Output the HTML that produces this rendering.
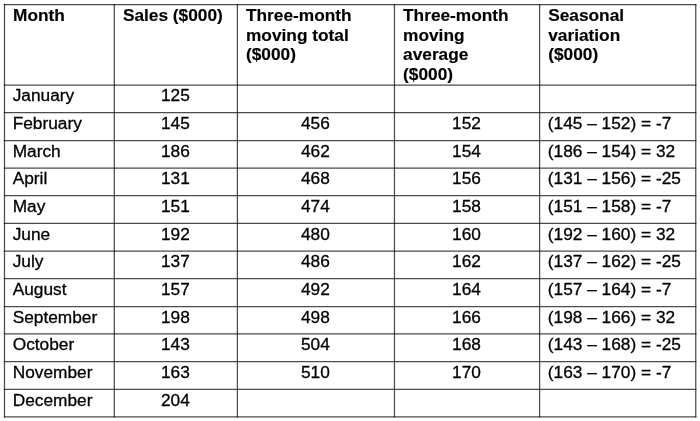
<!DOCTYPE html><html><head><meta charset="utf-8"><style>
html,body{margin:0;padding:0;background:#fff;width:700px;height:421px;overflow:hidden;}
body{position:relative;font-family:"Liberation Sans",sans-serif;font-size:17.30px;color:#000;}
.t{position:absolute;white-space:nowrap;line-height:19.33px;}
.t{-webkit-text-stroke:0.3px #000;}
.b{font-weight:bold;-webkit-text-stroke:0.15px #000;}
.c{text-align:center;}
svg{position:absolute;left:0;top:0;}
#w{position:absolute;left:0;top:0;width:700px;height:421px;will-change:transform;}
</style></head><body>
<svg width="700" height="421" viewBox="0 0 700 421"><line x1="3.88" y1="4.50" x2="696.38" y2="4.50" stroke="#000" stroke-width="1.25" stroke-opacity="0.70"/><line x1="3.88" y1="85.10" x2="696.38" y2="85.10" stroke="#000" stroke-width="1.25" stroke-opacity="0.70"/><line x1="3.88" y1="112.50" x2="696.38" y2="112.50" stroke="#000" stroke-width="1.25" stroke-opacity="0.70"/><line x1="3.88" y1="140.50" x2="696.38" y2="140.50" stroke="#000" stroke-width="1.25" stroke-opacity="0.70"/><line x1="3.88" y1="168.20" x2="696.38" y2="168.20" stroke="#000" stroke-width="1.25" stroke-opacity="0.70"/><line x1="3.88" y1="195.50" x2="696.38" y2="195.50" stroke="#000" stroke-width="1.25" stroke-opacity="0.70"/><line x1="3.88" y1="223.30" x2="696.38" y2="223.30" stroke="#000" stroke-width="1.25" stroke-opacity="0.70"/><line x1="3.88" y1="251.00" x2="696.38" y2="251.00" stroke="#000" stroke-width="1.25" stroke-opacity="0.70"/><line x1="3.88" y1="278.50" x2="696.38" y2="278.50" stroke="#000" stroke-width="1.25" stroke-opacity="0.70"/><line x1="3.88" y1="306.50" x2="696.38" y2="306.50" stroke="#000" stroke-width="1.25" stroke-opacity="0.70"/><line x1="3.88" y1="333.90" x2="696.38" y2="333.90" stroke="#000" stroke-width="1.25" stroke-opacity="0.70"/><line x1="3.88" y1="361.50" x2="696.38" y2="361.50" stroke="#000" stroke-width="1.25" stroke-opacity="0.70"/><line x1="3.88" y1="389.30" x2="696.38" y2="389.30" stroke="#000" stroke-width="1.25" stroke-opacity="0.70"/><line x1="3.88" y1="416.80" x2="696.38" y2="416.80" stroke="#000" stroke-width="1.25" stroke-opacity="0.70"/><line x1="4.50" y1="3.88" x2="4.50" y2="417.43" stroke="#000" stroke-width="1.25" stroke-opacity="0.70"/><line x1="114.30" y1="3.88" x2="114.30" y2="417.43" stroke="#000" stroke-width="1.25" stroke-opacity="0.70"/><line x1="237.40" y1="3.88" x2="237.40" y2="417.43" stroke="#000" stroke-width="1.25" stroke-opacity="0.70"/><line x1="394.45" y1="3.88" x2="394.45" y2="417.43" stroke="#000" stroke-width="1.25" stroke-opacity="0.70"/><line x1="539.60" y1="3.88" x2="539.60" y2="417.43" stroke="#000" stroke-width="1.25" stroke-opacity="0.70"/><line x1="695.75" y1="3.88" x2="695.75" y2="417.43" stroke="#000" stroke-width="1.25" stroke-opacity="0.70"/></svg>
<div id="w">
<div class="t b" style="left:13.10px;top:6.20px;line-height:19.60px;">Month</div>
<div class="t b" style="left:122.90px;top:6.20px;line-height:19.60px;">Sales ($000)</div>
<div class="t b" style="left:246.00px;top:6.20px;line-height:19.60px;">Three-month<br>moving total<br>($000)</div>
<div class="t b" style="left:403.05px;top:6.20px;line-height:19.60px;">Three-month<br>moving<br>average<br>($000)</div>
<div class="t b" style="left:548.20px;top:6.20px;line-height:19.60px;">Seasonal<br>variation<br>($000)</div>
<div class="t" style="left:12.70px;top:86.34px;">January</div>
<div class="t c" style="left:113.80px;width:123.10px;top:86.34px;">125</div>
<div class="t" style="left:12.70px;top:113.74px;">February</div>
<div class="t c" style="left:113.80px;width:123.10px;top:113.74px;">145</div>
<div class="t c" style="left:236.90px;width:157.05px;top:113.74px;">456</div>
<div class="t c" style="left:393.95px;width:145.15px;top:113.74px;">152</div>
<div class="t" style="left:547.80px;top:113.74px;">(145 – 152) = -7</div>
<div class="t" style="left:12.70px;top:141.74px;">March</div>
<div class="t c" style="left:113.80px;width:123.10px;top:141.74px;">186</div>
<div class="t c" style="left:236.90px;width:157.05px;top:141.74px;">462</div>
<div class="t c" style="left:393.95px;width:145.15px;top:141.74px;">154</div>
<div class="t" style="left:547.80px;top:141.74px;">(186 – 154) = 32</div>
<div class="t" style="left:12.70px;top:169.44px;">April</div>
<div class="t c" style="left:113.80px;width:123.10px;top:169.44px;">131</div>
<div class="t c" style="left:236.90px;width:157.05px;top:169.44px;">468</div>
<div class="t c" style="left:393.95px;width:145.15px;top:169.44px;">156</div>
<div class="t" style="left:547.80px;top:169.44px;">(131 – 156) = -25</div>
<div class="t" style="left:12.70px;top:196.74px;">May</div>
<div class="t c" style="left:113.80px;width:123.10px;top:196.74px;">151</div>
<div class="t c" style="left:236.90px;width:157.05px;top:196.74px;">474</div>
<div class="t c" style="left:393.95px;width:145.15px;top:196.74px;">158</div>
<div class="t" style="left:547.80px;top:196.74px;">(151 – 158) = -7</div>
<div class="t" style="left:12.70px;top:224.54px;">June</div>
<div class="t c" style="left:113.80px;width:123.10px;top:224.54px;">192</div>
<div class="t c" style="left:236.90px;width:157.05px;top:224.54px;">480</div>
<div class="t c" style="left:393.95px;width:145.15px;top:224.54px;">160</div>
<div class="t" style="left:547.80px;top:224.54px;">(192 – 160) = 32</div>
<div class="t" style="left:12.70px;top:252.23px;">July</div>
<div class="t c" style="left:113.80px;width:123.10px;top:252.23px;">137</div>
<div class="t c" style="left:236.90px;width:157.05px;top:252.23px;">486</div>
<div class="t c" style="left:393.95px;width:145.15px;top:252.23px;">162</div>
<div class="t" style="left:547.80px;top:252.23px;">(137 – 162) = -25</div>
<div class="t" style="left:12.70px;top:279.73px;">August</div>
<div class="t c" style="left:113.80px;width:123.10px;top:279.73px;">157</div>
<div class="t c" style="left:236.90px;width:157.05px;top:279.73px;">492</div>
<div class="t c" style="left:393.95px;width:145.15px;top:279.73px;">164</div>
<div class="t" style="left:547.80px;top:279.73px;">(157 – 164) = -7</div>
<div class="t" style="left:12.70px;top:307.73px;">September</div>
<div class="t c" style="left:113.80px;width:123.10px;top:307.73px;">198</div>
<div class="t c" style="left:236.90px;width:157.05px;top:307.73px;">498</div>
<div class="t c" style="left:393.95px;width:145.15px;top:307.73px;">166</div>
<div class="t" style="left:547.80px;top:307.73px;">(198 – 166) = 32</div>
<div class="t" style="left:12.70px;top:335.13px;">October</div>
<div class="t c" style="left:113.80px;width:123.10px;top:335.13px;">143</div>
<div class="t c" style="left:236.90px;width:157.05px;top:335.13px;">504</div>
<div class="t c" style="left:393.95px;width:145.15px;top:335.13px;">168</div>
<div class="t" style="left:547.80px;top:335.13px;">(143 – 168) = -25</div>
<div class="t" style="left:12.70px;top:362.73px;">November</div>
<div class="t c" style="left:113.80px;width:123.10px;top:362.73px;">163</div>
<div class="t c" style="left:236.90px;width:157.05px;top:362.73px;">510</div>
<div class="t c" style="left:393.95px;width:145.15px;top:362.73px;">170</div>
<div class="t" style="left:547.80px;top:362.73px;">(163 – 170) = -7</div>
<div class="t" style="left:12.70px;top:390.53px;">December</div>
<div class="t c" style="left:113.80px;width:123.10px;top:390.53px;">204</div>
</div></body></html>
